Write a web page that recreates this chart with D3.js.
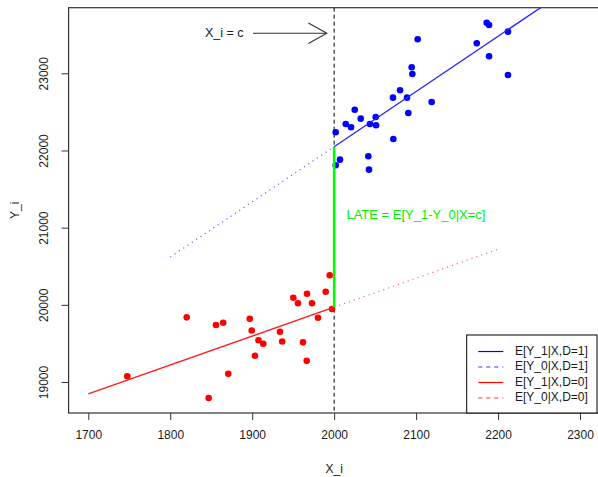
<!DOCTYPE html>
<html><head><meta charset="utf-8">
<script src="https://cdn.jsdelivr.net/npm/d3@7"></script>
<style>
html,body{margin:0;padding:0;background:#fff;}
svg{display:block;font-family:"Liberation Sans",Arial,Helvetica,sans-serif;}
</style></head><body>
<svg id="chart" width="598" height="477"></svg>
<script>
// ---- data ----
const treatedX = [2101.9,2094.6,2095.4,2080.4,2071.8,2088.9,2119.0,2025.1,2090.5,2032.4,2050.7,2014.1,2020.6,2043.7,2051.1,2001.9,2072.2,2007.1,2001.9,2041.7,2042.5,2186.1,2189.0,2212.1,2174.0,2189.0,2212.1];
const treatedY = [23441,23078,22991,22780,22684,22684,22628,22528,22486,22412,22434,22343,22300,22343,22326,22236,22149,21881,21808,21925,21751,23655,23626,23539,23389,23220,22978];
const controlX = [1747.6,1820.1,1846.9,1855.8,1864.6,1870.8,1897.0,1899.4,1907.7,1913.5,1903.4,1933.9,1936.6,1950.2,1955.9,1966.9,1973.0,1962.0,1966.5,1980.3,1989.7,1994.6,1997.4];
const controlY = [19074,19838,18793,19739,19767,19106,19820,19667,19542,19496,19341,19652,19525,20092,20020,20144,20020,19514,19276,19833,20170,20383,19946];
// fitted regression lines: value at cutoff and slope
const cutoff = 2000;
const fitTreated = {atCutoff: 22049, slope: 7.15};
const fitControl = {atCutoff: 19970, slope: 3.75};
// extents of each drawn line (x from, x to)
const seg1Solid = [2000, 2300];
const seg1Dotted = [1800, 2000];
const seg0Solid = [1700, 2000];
const seg0Dotted = [2000, 2200];
const xTicks = [1700,1800,1900,2000,2100,2200,2300];
const yTicks = [19000,20000,21000,22000,23000];
const legendLabels = ["E[Y_1|X,D=1]","E[Y_0|X,D=1]","E[Y_1|X,D=0]","E[Y_0|X,D=0]"];
const legendColors = ["#0000ff","#0000ff","#ff0000","#ff0000"];
const legendDashed = [false,true,false,true];
const arrowText = "X_i = c";
const arrowTextPos = [1866, 23518];
const arrowFrom = [1901, 23518];
const arrowTo = [1991, 23518];
const lateText = "LATE = E[Y_1-Y_0|X=c]";
const lateTextPos = [2015, 21150];

// ---- layout ----
const svg = d3.select("#chart");
const L = 68.6, R = 599.7, T = 7.7, B = 413.0;
const x = d3.scaleLinear().domain([1676, 2324]).range([L, R]);
const y = d3.scaleLinear().domain([18598.5, 23849.5]).range([B, T]);

svg.append("clipPath").attr("id","clip").append("rect")
  .attr("x",L).attr("y",T).attr("width",R-L).attr("height",B-T);

const axisColor = "#333";

// axes
const gx = svg.append("g").attr("transform",`translate(0,${B})`)
  .call(d3.axisBottom(x).tickValues(xTicks).tickSize(7).tickPadding(10).tickFormat(d3.format("d")));
const gy = svg.append("g").attr("transform",`translate(${L},0)`)
  .call(d3.axisLeft(y).tickValues(yTicks).tickSize(7).tickPadding(4).tickFormat(d3.format("d")));
[gx,gy].forEach(g=>{
  g.select(".domain").remove();
  g.selectAll(".tick line").attr("stroke",axisColor);
  g.selectAll(".tick text").attr("font-size","12px").attr("fill","#1a1a1a")
    .attr("font-family","'Liberation Sans',Arial,sans-serif");
});
gy.selectAll(".tick text")
  .attr("transform", function(){ return "rotate(-90)"; })
  .attr("x",0).attr("dy",null).attr("y",-24).attr("text-anchor","middle")
  .attr("dominant-baseline","middle");
// box
svg.append("rect").attr("x",L).attr("y",T).attr("width",R-L).attr("height",B-T)
  .attr("fill","none").attr("stroke",axisColor).attr("stroke-width",1.2);

// axis titles
svg.append("text").attr("x",(L+R)/2).attr("y",473).attr("text-anchor","middle")
  .attr("font-size","12px").attr("fill","#1a1a1a").text("X_i");
svg.append("text").attr("transform",`translate(19,${(T+B)/2}) rotate(-90)`)
  .attr("text-anchor","middle").attr("font-size","12px").attr("fill","#1a1a1a").text("Y_i");

const plot = svg.append("g").attr("clip-path","url(#clip)");

// cutoff dashed line
plot.append("line").attr("x1",x(cutoff)).attr("x2",x(cutoff)).attr("y1",T).attr("y2",B)
  .attr("stroke","#000").attr("stroke-width",1).attr("stroke-dasharray","4,3");

// points
plot.selectAll("circle.t").data(treatedX.map((v,i)=>[v,treatedY[i]])).join("circle")
  .attr("cx",d=>x(d[0])).attr("cy",d=>y(d[1])).attr("r",3.3).attr("fill","#0000ff");
plot.selectAll("circle.c").data(controlX.map((v,i)=>[v,controlY[i]])).join("circle")
  .attr("class","c")
  .attr("cx",d=>x(d[0])).attr("cy",d=>y(d[1])).attr("r",3.3).attr("fill","#ff0000");

function fitLine(fit, ext, color, dotted){
  const f = xv => fit.atCutoff + fit.slope*(xv-cutoff);
  const ln = plot.append("line")
    .attr("x1",x(ext[0])).attr("y1",y(f(ext[0])))
    .attr("x2",x(ext[1])).attr("y2",y(f(ext[1])))
    .attr("stroke",color).attr("stroke-width",dotted?1.2:1.3);
  if(dotted) ln.attr("stroke-dasharray","1.2,4").attr("opacity",0.75);
}
fitLine(fitTreated, seg1Solid, "#2222ff", false);
fitLine(fitTreated, seg1Dotted, "#3333ff", true);
fitLine(fitControl, seg0Solid, "#ff1a1a", false);
fitLine(fitControl, seg0Dotted, "#ff3333", true);

// LATE green segment
plot.append("line").attr("x1",x(cutoff)).attr("x2",x(cutoff))
  .attr("y1",y(fitTreated.atCutoff)).attr("y2",y(fitControl.atCutoff))
  .attr("stroke","#00ff00").attr("stroke-width",2.6);
svg.append("text").attr("x",x(lateTextPos[0])).attr("y",y(lateTextPos[1]))
  .attr("font-size","13px").attr("fill","#00ee00").attr("dominant-baseline","middle")
  .text(lateText);

// arrow
svg.append("text").attr("x",x(arrowTextPos[0])).attr("y",y(arrowTextPos[1]))
  .attr("text-anchor","middle").attr("dominant-baseline","middle")
  .attr("font-size","12.5px").attr("fill","#1a1a1a").text(arrowText);
const ax1 = x(arrowFrom[0]), ay1 = y(arrowFrom[1]), ax2 = x(arrowTo[0]), ay2 = y(arrowTo[1]);
svg.append("line").attr("x1",ax1).attr("y1",ay1).attr("x2",ax2).attr("y2",ay2)
  .attr("stroke","#333").attr("stroke-width",1.1);
const ang = Math.atan2(ay2-ay1, ax2-ax1), hl = 21, ha = Math.PI/6.2;
svg.append("path")
  .attr("d",`M${ax2-hl*Math.cos(ang-ha)},${ay2-hl*Math.sin(ang-ha)}L${ax2},${ay2}L${ax2-hl*Math.cos(ang+ha)},${ay2-hl*Math.sin(ang+ha)}`)
  .attr("fill","none").attr("stroke","#333").attr("stroke-width",1.1);

// legend
const lgX = 466.7, lgY = 335, lgW = 597-466.7, lgH = B-335;
svg.append("rect").attr("x",lgX).attr("y",lgY).attr("width",lgW).attr("height",lgH)
  .attr("fill","#fff").attr("stroke","#000").attr("stroke-width",1);
legendLabels.forEach((lab,i)=>{
  const yy = lgY + 16.5 + i*15.5;
  const ln = svg.append("line").attr("x1",lgX+11.6).attr("x2",lgX+36.6).attr("y1",yy).attr("y2",yy)
    .attr("stroke",legendColors[i]).attr("stroke-width",1.2);
  if(legendDashed[i]) ln.attr("stroke-dasharray","4,4").attr("opacity",0.8);
  svg.append("text").attr("x",lgX+48.3).attr("y",yy).attr("dominant-baseline","middle")
    .attr("font-size","12px").attr("fill","#1a1a1a").text(lab);
});
</script>
</body></html>
